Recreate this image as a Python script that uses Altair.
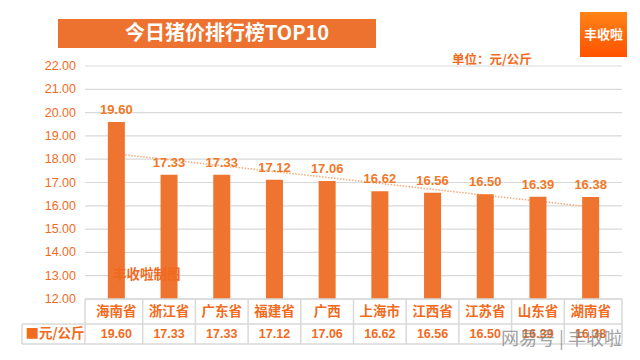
import altair as alt
import pandas as pd

categories = ["海南省", "浙江省", "广东省", "福建省", "广西", "上海市", "江西省", "江苏省", "山东省", "湖南省"]
values = [19.60, 17.33, 17.33, 17.12, 17.06, 16.62, 16.56, 16.50, 16.39, 16.38]
y_ticks = [12, 13, 14, 15, 16, 17, 18, 19, 20, 21, 22]
title_text = "今日猪价排行榜TOP10"
unit_text = "单位：元/公斤"
series_name = "■元/公斤"
logo_text = "丰收啦"
watermark_text = "丰收啦制图"
site_mark = "网易号 | 丰收啦"

ORANGE = "#EE7430"
TXT = "#F26B1D"
GRID = "#D9D9D9"
W, H = 537, 233
CJK = "Noto Sans CJK SC"

df = pd.DataFrame({"idx": list(range(1, len(categories) + 1)), "cat": categories, "value": values})
bounds = pd.DataFrame({"b": [i + 0.5 for i in range(0, len(categories) + 1)]})
ticks = pd.DataFrame({"t": y_ticks})
one = pd.DataFrame({"k": [0]})

xs = alt.Scale(domain=[0.5, len(categories) + 0.5], nice=False, zero=False)
ys = alt.Scale(domain=[12, 22], nice=False, zero=False)

X = alt.X("idx:Q", scale=xs, axis=None)
Y = alt.Y("value:Q", scale=ys, axis=None)

base = alt.Chart(df)

# y axis: gridlines + labels via the y scale
gridl = alt.Chart(ticks).mark_rule(color=GRID, strokeWidth=1.2).encode(
    y=alt.Y("t:Q", scale=ys, axis=None), x=alt.value(0), x2=alt.value(W))
ylab = alt.Chart(ticks).mark_text(color=TXT, font="Liberation Sans", fontSize=12.5, align="right").encode(
    y=alt.Y("t:Q", scale=ys, axis=None), x=alt.value(-9), text=alt.Text("t:Q", format=".2f"))

trend = base.transform_regression("idx", "value", extent=[1, 10]).mark_line(
    color="#F5AE80", strokeWidth=1.6, strokeDash=[1.5, 1.5]
).encode(x=X, y=Y)

bars = base.mark_bar(color=ORANGE, size=17).encode(x=X, y=Y, y2=alt.datum(12))

labels = base.mark_text(color="#F07828", font="Liberation Sans", fontWeight="bold", fontSize=13,
                        baseline="bottom", dy=-5).encode(
    x=X, y=Y, text=alt.Text("value:Q", format=".2f")
)

# data table under the plot
hlines = alt.Chart(pd.DataFrame({"x1": [0, -63, -63], "x2": [W, W, W], "y": [H, 258, 278]})).mark_rule(
    color=GRID, strokeWidth=1.5).encode(x=alt.X("x1:Q", scale=None, axis=None), x2="x2:Q",
                                        y=alt.Y("y:Q", scale=None, axis=None))
vlines = alt.Chart(pd.DataFrame({"xv": [-63, 0, W], "ya": [258, H, H], "yb": [278, 278, 278]})).mark_rule(
    color=GRID, strokeWidth=1.5).encode(
    x=alt.X("xv:Q", scale=None, axis=None), y=alt.Y("ya:Q", scale=None, axis=None), y2="yb:Q")
vinner = alt.Chart(bounds).transform_filter("datum.b > 1 && datum.b < 10").mark_rule(
    color=GRID, strokeWidth=1.5).encode(
    x=alt.X("b:Q", scale=xs, axis=None), y=alt.value(H), y2=alt.value(278))
cat_txt = base.mark_text(color=TXT, font=CJK, fontWeight="bold", fontSize=13.5).encode(
    x=X, y=alt.value(245.5), text="cat:N")
val_txt = base.mark_text(color=TXT, font="Liberation Sans", fontWeight="bold", fontSize=12.5).encode(
    x=X, y=alt.value(268), text=alt.Text("value:Q", format=".2f"))
leg_txt = alt.Chart(one).mark_text(color=TXT, font=CJK, fontWeight="bold", fontSize=13.5).encode(
    x=alt.value(-30), y=alt.value(268), text=alt.value(series_name))

# title box
tbox = alt.Chart(one).mark_rect(color="#ED7230").encode(
    x=alt.value(-27), x2=alt.value(291), y=alt.value(-47), y2=alt.value(-18))
ttxt = alt.Chart(one).mark_text(color="white", font=CJK, fontWeight="bold", fontSize=20).encode(
    x=alt.value(142), y=alt.value(-32), text=alt.value(title_text))

grad = alt.Gradient(gradient="linear", stops=[alt.GradientStop(color="#FF8418", offset=0),
                                               alt.GradientStop(color="#FF5200", offset=1)],
                    x1=0, x2=0, y1=0, y2=1)
logo = alt.Chart(one).mark_rect(color=grad).encode(
    x=alt.value(495), x2=alt.value(542), y=alt.value(-54), y2=alt.value(-9))
logo_t = alt.Chart(one).mark_text(color="white", font=CJK, fontWeight="bold", fontSize=13).encode(
    x=alt.value(518.5), y=alt.value(-31.5), text=alt.value(logo_text))

unit = alt.Chart(one).mark_text(color=TXT, font=CJK, fontWeight="bold", fontSize=12.5, align="left").encode(
    x=alt.value(367), y=alt.value(-6.5), text=alt.value(unit_text))

wm = alt.Chart(one).mark_text(color="#F06A1E", font=CJK, fontWeight="bold", fontSize=13.5, align="left").encode(
    x=alt.value(28), y=alt.value(209), text=alt.value(watermark_text))

site = alt.Chart(one).mark_text(color="#7A7A7A", font=CJK, fontSize=18, align="right", opacity=0.7).encode(
    x=alt.value(537), y=alt.value(274), text=alt.value(site_mark))

chart = alt.layer(gridl, ylab, trend, bars, labels, hlines, vlines, vinner, cat_txt, val_txt, leg_txt,
                  tbox, ttxt, logo, logo_t, unit, wm, site).properties(
    width=W, height=H,
    autosize=alt.AutoSizeParams(type="none"),
    padding={"left": 77, "top": 58, "right": 10, "bottom": 54},
).configure(background="white").configure_view(stroke="transparent", strokeWidth=0)

chart.save("out.html", embed_options={"renderer": "svg", "actions": False})
